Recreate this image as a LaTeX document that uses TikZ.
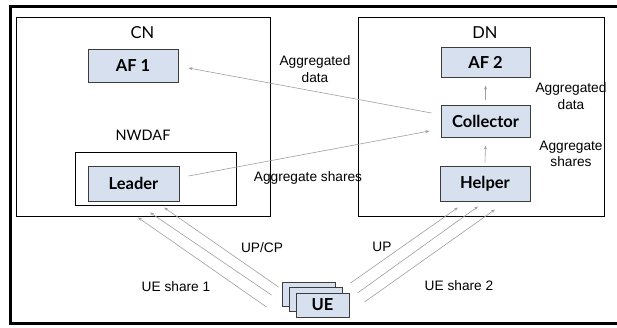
\documentclass[tikz,border=0pt]{standalone}
\usepackage{fontspec}
\setmainfont{Liberation Sans}
\newfontfamily\boxfont{Lato}
\usetikzlibrary{calc,arrows.meta}

\definecolor{boxfill}{RGB}{214,224,239}
\definecolor{boxline}{RGB}{60,60,60}
\definecolor{flowgray}{RGB}{160,160,160}

\tikzset{
  unit/.style={draw=boxline, fill=boxfill, line width=1pt, minimum width=#1,
    inner sep=0pt, font=\boxfont\bfseries\fontsize{16.5}{18}\selectfont},
  area/.style={draw=black, line width=0.9pt},
  title/.style={inner sep=0pt, font=\boxfont\fontsize{#1}{#1}\selectfont},
  lbl/.style={inner sep=0pt, align=center, font=\fontsize{13.7}{16.5}\selectfont},
  flow/.style={draw=flowgray, line width=0.6pt,
    -{Stealth[length=4pt,width=3pt]}},
}

\begin{document}
\begin{tikzpicture}[x=1pt, y=-1pt]
  \clip (0,0) rectangle (617,327);
  \fill[white] (0,0) rectangle (617,327);
  % outer frame, open on the right
  \draw[line width=3pt] (630,6.5) -- (10.5,6.5) -- (10.5,323.5) -- (630,323.5);

  % network domains
  \draw[area] (16,17) rectangle (270,216);
  \draw[area] (358,17) rectangle (604,216);
  \draw[area] (75,152) rectangle (236,205);
  \node[title=16.5] (cn) at (142.5,33) {CN};
  \node[title=16.5] (dn) at (485,33) {DN};
  \node[title=14.5] (nwdaf) at (143,135) {NWDAF};

  % functions
  \node[unit=90pt, minimum height=33pt] (af1) at (133,65.5) {AF 1};
  \node[unit=89pt, minimum height=30pt] (af2) at (485.5,62) {AF 2};
  \node[unit=89pt, minimum height=32pt] (coll) at (485.5,121) {Collector};
  \node[unit=90pt, minimum height=35pt] (helper) at (485,183.5) {Helper};
  \node[unit=91pt, minimum height=35pt] (leader) at (133.5,183.5) {Leader};

  % stacked user equipment
  \node[unit=53pt, minimum height=24pt] (ue3) at (308.5,294) {};
  \node[unit=53pt, minimum height=24pt] (ue2) at (315.5,299.5) {};
  \node[unit=53pt, minimum height=24pt] (ue) at (322.5,305) {UE};

  % aggregation flows
  \draw[flow] ($(coll.west)+(-9,-8)$) -- ($(af1.east)+(10,2.5)$);
  \draw[flow] ($(leader.east)+(9,-7.5)$) -- ($(coll.west)+(-11,10)$);
  \draw[flow] ($(coll.north)+(0,-5)$) -- ($(af2.south)+(0,8)$);
  \draw[flow] ($(helper.north)+(0,-3)$) -- ($(coll.south)+(0,8)$);

  % share uploads
  \draw[flow] ($(ue.west)+(-29,2)$)   -- ($(leader.south)+(4.5,16)$);
  \draw[flow] ($(ue.west)+(-24,-10)$) -- ($(leader.south)+(16.5,11)$);
  \draw[flow] ($(ue.west)+(-17,-18)$) -- ($(leader.south)+(30.5,6)$);
  \draw[flow] ($(ue.east)+(1,-22)$)  -- ($(helper.south)+(-27,6)$);
  \draw[flow] ($(ue.east)+(8,-12)$)  -- ($(helper.south)+(-7,5)$);
  \draw[flow] ($(ue.east)+(15,-3)$)  -- ($(helper.south)+(10,8)$);

  % labels
  \node[lbl] (l1) at (315,69) {Aggregated\\data};
  \node[lbl] (l2) at (571,96) {Aggregated\\data};
  \node[lbl] (l3) at (571,154) {Aggregate\\shares};
  \node[lbl] (l4) at (308,178) {Aggregate shares};
  \node[lbl] (l5) at (262,248) {UP/CP};
  \node[lbl] (l6) at (176,287) {UE share 1};
  \node[lbl] (l7) at (382,247) {UP};
  \node[lbl] (l8) at (459,286) {UE share 2};
\end{tikzpicture}
\end{document}
